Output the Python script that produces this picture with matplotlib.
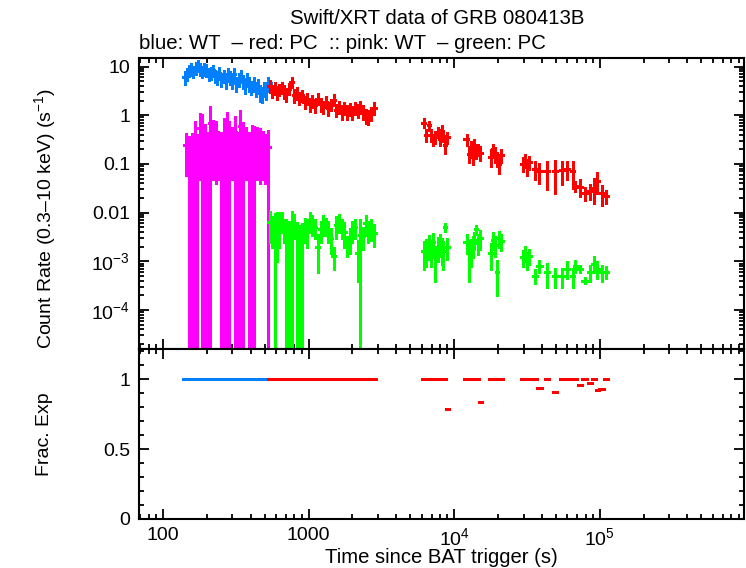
import numpy as np
import matplotlib
matplotlib.use('Agg')
import matplotlib.pyplot as plt
from matplotlib import font_manager
from matplotlib.ticker import FixedLocator, FixedFormatter, LogLocator, MultipleLocator, NullFormatter

# ------------------------------------------------------------
# data (GRB 080413B, Swift/XRT)
# ------------------------------------------------------------
# WT mode, source (blue) and background (pink)
wt_t = [142, 147, 152, 157, 162, 168, 174, 180, 186, 192, 199, 206, 213, 220,
        228, 236, 244, 252, 261, 270, 279, 289, 299, 309, 320, 331, 342, 354,
        366, 379, 392, 405, 419, 434, 449, 464, 480, 497, 514, 530]
wt_rate = [6.0, 7.0, 8.5, 9.0, 8.0, 9.5, 10.5, 9.0, 8.0, 9.0, 8.5, 7.0, 7.5, 8.5,
           6.5, 6.0, 7.5, 5.5, 6.5, 5.0, 7.0, 6.0, 5.0, 7.0, 4.5, 5.5, 6.5, 5.0,
           4.0, 5.5, 4.5, 3.8, 4.5, 3.5, 4.0, 3.0, 2.8, 3.5, 3.2, 4.5]
wt_err = [1.6, 1.8, 2.0, 2.2, 2.0, 2.3, 2.5, 2.2, 2.0, 2.2, 2.1, 1.8, 1.9, 2.0,
          1.7, 1.6, 1.9, 1.5, 1.7, 1.4, 1.8, 1.6, 1.4, 1.8, 1.3, 1.5, 1.7, 1.4,
          1.2, 1.5, 1.3, 1.1, 1.3, 1.0, 1.2, 1.0, 0.9, 1.0, 1.0, 1.3]
wt_frac = [1.0] * 40

wt_bg_t = [145, 152, 158, 165, 172, 179, 186, 194, 202, 211, 220, 230, 240, 251,
           262, 274, 286, 299, 312, 326, 341, 356, 372, 389, 406, 424, 443, 463,
           484, 506, 525]
wt_bg_rate = [0.24, 0.17, 0.20, 0.36, 0.19, 0.55, 0.50, 0.30, 0.20, 0.70, 0.40,
              0.38, 0.25, 0.20, 0.40, 0.55, 0.36, 0.30, 0.45, 0.20, 0.60, 0.35,
              0.30, 0.22, 0.30, 0.28, 0.30, 0.28, 0.25, 0.22, 0.22]
wt_bg_err = [0.18, 0.19, 0.21, 0.37, 0.20, 0.50, 0.52, 0.32, 0.23, 0.75, 0.35,
             0.34, 0.20, 0.23, 0.42, 0.56, 0.37, 0.25, 0.45, 0.23, 0.65, 0.35,
             0.25, 0.22, 0.30, 0.29, 0.25, 0.24, 0.20, 0.18, 0.25]

# PC mode, source (red) and background (green)
pc_t = [545, 565, 585, 605, 630, 655, 680, 705, 735, 765, 795, 830, 865, 900,
        940, 980, 1020, 1065, 1110, 1160, 1210, 1260, 1315, 1370, 1430, 1490,
        1555, 1620, 1690, 1760, 1835, 1915, 2000, 2085, 2175, 2270, 2370, 2470,
        2580, 2700, 2820,
        6200, 6450, 6700, 6950, 7200, 7450, 7700, 7950, 8200, 8450, 8700, 8950,
        12200, 12600, 13000, 13400, 13800, 14200, 14600, 15000,
        18000, 18600, 19200, 19800, 20400, 21000,
        29800, 30800, 31800, 32800,
        36000, 38500, 43300, 49200, 55000, 59900, 65800, 68000, 73400, 78800,
        86000, 91700, 96100, 103200, 110000]
pc_rate = [4.0, 3.2, 3.6, 3.0, 3.4, 3.8, 3.1, 2.7, 3.5, 4.8, 2.6, 2.9, 2.3, 2.6,
           1.9, 2.2, 1.7, 2.0, 1.6, 2.2, 1.7, 1.5, 1.9, 1.4, 1.7, 2.1,
           1.3, 1.5, 1.2, 1.4, 1.2, 1.35, 1.15, 1.4, 1.25, 1.5, 1.2, 1.0,
           0.95, 1.1, 1.4,
           0.70, 0.40, 0.62, 0.40, 0.32, 0.36, 0.45, 0.33, 0.50, 0.38, 0.24, 0.35,
           0.32, 0.16, 0.22, 0.14, 0.25, 0.18, 0.20, 0.17,
           0.14, 0.20, 0.16, 0.13, 0.10, 0.15,
           0.10, 0.12, 0.09, 0.11,
           0.08, 0.07, 0.07, 0.07, 0.075, 0.08, 0.07, 0.035, 0.034, 0.025,
           0.028, 0.032, 0.045, 0.025, 0.022]
pc_err = [1.0, 0.8, 0.9, 0.8, 0.8, 0.9, 0.8, 0.7, 0.8, 1.0, 0.7, 0.7, 0.6, 0.6,
          0.5, 0.5, 0.45, 0.5, 0.45, 0.5, 0.45, 0.4, 0.45, 0.4, 0.4, 0.5,
          0.35, 0.4, 0.35, 0.35, 0.35, 0.35, 0.3, 0.35, 0.35, 0.4, 0.35, 0.3,
          0.3, 0.3, 0.35,
          0.13, 0.10, 0.12, 0.10, 0.08, 0.09, 0.10, 0.08, 0.11, 0.09, 0.07, 0.08,
          0.08, 0.05, 0.06, 0.04, 0.06, 0.05, 0.05, 0.05,
          0.05, 0.05, 0.05, 0.04, 0.035, 0.04,
          0.03, 0.035, 0.03, 0.03,
          0.03, 0.03, 0.04, 0.045, 0.037, 0.03, 0.038, 0.007, 0.012, 0.007,
          0.009, 0.016, 0.02, 0.011, 0.006]
pc_frac = ([1.0] * 41
           + [1.0] * 11 + [0.79]
           + [1.0] * 7 + [0.835]
           + [1.0] * 6
           + [1.0] * 4
           + [1.0, 0.935, 1.0, 0.91, 1.0, 1.0, 1.0, 1.0, 0.96, 1.0, 0.97, 1.0,
              0.92, 0.93, 1.0])

pc_bg_rate = [0.0065, 0.005, 0.0045, 0.0055, 0.006, 0.007, 0.0045, 0.0035, 0.003,
              0.005, 0.006, 0.003, 0.0025, 0.0027, 0.005, 0.0045, 0.007, 0.006,
              0.005, 0.002, 0.0045, 0.006, 0.0055, 0.0045, 0.003, 0.0013, 0.0055,
              0.0065, 0.005, 0.004, 0.0022, 0.003, 0.0045, 0.005, 0.0015, 0.0035,
              0.0033, 0.006, 0.0045, 0.005, 0.0038,
              0.0016, 0.0018, 0.0022, 0.0017, 0.0025, 0.0012, 0.0020, 0.0024,
              0.0019, 0.0016, 0.0050, 0.0020,
              0.0025, 0.0015, 0.0018, 0.0022, 0.0028, 0.0045, 0.0024, 0.0030,
              0.0015, 0.0028, 0.0022, 0.0006, 0.0030, 0.0026,
              0.0012, 0.0015, 0.0011, 0.0013,
              0.0005, 0.0008, 0.0006, 0.0005, 0.0005, 0.0007, 0.0005, 0.0008,
              0.0007, 0.0004, 0.0006, 0.0009, 0.0007, 0.0006, 0.0006]
pc_bg_err = [0.004, 0.003, 0.0048, 0.0045, 0.004, 0.003, 0.002, 0.0037, 0.0033,
             0.0052, 0.003, 0.0032, 0.0028, 0.003, 0.0025, 0.0025, 0.003, 0.0025,
             0.002, 0.0014, 0.002, 0.0025, 0.002, 0.002, 0.0015, 0.0006, 0.0025,
             0.0025, 0.002, 0.002, 0.0009, 0.0015, 0.002, 0.002, 0.0011, 0.0037,
             0.0015, 0.0025, 0.002, 0.0022, 0.0017,
             0.0009, 0.0010, 0.0011, 0.0009, 0.0011, 0.0008, 0.0010, 0.0011,
             0.0010, 0.0009, 0.0008, 0.0009,
             0.0010, 0.0011, 0.0010, 0.0010, 0.0010, 0.0008, 0.0010, 0.0012,
             0.0008, 0.0010, 0.0009, 0.0004, 0.0010, 0.0009,
             0.0004, 0.0005, 0.0004, 0.0004,
             0.00015, 0.0002, 0.0003, 0.0002, 0.0002, 0.00025, 0.0002, 0.0002,
             0.0001, 0.00005, 0.0002, 0.0003, 0.00025, 0.0002, 0.00015]

col_wt = '#0080ff'
col_pc = '#ff0000'
col_wt_bg = '#ff00ff'
col_pc_bg = '#00ff00'

names = {f.name for f in font_manager.fontManager.ttflist}
family = 'Liberation Sans Narrow' if 'Liberation Sans Narrow' in names else 'Liberation Sans'
plt.rcParams['font.family'] = [family, 'DejaVu Sans']
plt.rcParams['mathtext.fontset'] = 'custom'
plt.rcParams['mathtext.rm'] = family
plt.rcParams['mathtext.default'] = 'regular'


def bin_xerr(t, maxfrac=0.035):
    # bins meet halfway (in log) between close neighbours, else +-maxfrac
    t = np.asarray(t, float)
    mids = np.sqrt(t[:-1] * t[1:])
    close = (t[1:] / t[:-1]) < 1 + 2 * maxfrac
    hi = np.r_[np.where(close, mids, t[:-1] * (1 + maxfrac)), t[-1] * (1 + maxfrac)]
    lo = np.r_[t[0] * (1 - maxfrac), np.where(close, mids, t[1:] * (1 - maxfrac))]
    return np.vstack([t - lo, hi - t])


def bars(ax, t, y, yerr, color, lw):
    eb = ax.errorbar(t, y, xerr=bin_xerr(t), yerr=yerr, fmt='none',
                     ecolor=color, elinewidth=lw, capsize=0)
    for lc in eb.lines[2]:
        lc.set_capstyle('projecting')
        lc.set_antialiased(False)
    return eb


def style(ax):
    for s in ax.spines.values():
        s.set_linewidth(1.5)
    ax.tick_params(which='both', direction='in', top=True, right=True,
                   width=1.3, labelsize=14, pad=6)
    ax.tick_params(which='major', length=7)
    ax.tick_params(which='minor', length=3.5)


fig = plt.figure(figsize=(7.46, 5.68), dpi=100)
ax1 = fig.add_axes([0.1857, 0.3856, 0.8116, 0.5118])
ax2 = fig.add_axes([0.1857, 0.0863, 0.8116, 0.2993], sharex=ax1)

bars(ax1, wt_t, wt_rate, wt_err, col_wt, 2.0)
bars(ax1, pc_t, pc_rate, pc_err, col_pc, 2.0)
bars(ax1, wt_bg_t, wt_bg_rate, wt_bg_err, col_wt_bg, 2.0)
bars(ax1, pc_t, pc_bg_rate, pc_bg_err, col_pc_bg, 2.0)

ax1.set_xscale('log')
ax1.set_yscale('log')
ax1.set_xlim(68, 9.8e5)
ax1.set_ylim(1.58e-5, 14.8)
ax1.yaxis.set_major_locator(FixedLocator([10, 1, 0.1, 0.01, 1e-3, 1e-4]))
ax1.yaxis.set_major_formatter(FixedFormatter(['10', '1', '0.1', '0.01',
                                              '10$^{-3}$', '10$^{-4}$']))
ax1.yaxis.set_minor_locator(LogLocator(base=10, subs=np.arange(2, 10), numticks=20))
ax1.yaxis.set_minor_formatter(NullFormatter())
style(ax1)
ax1.tick_params(labelbottom=False)

bars(ax2, wt_t, wt_frac, None, col_wt, 2.0)
bars(ax2, pc_t, pc_frac, None, col_pc, 2.0)
ax2.set_ylim(0, 1.216)
ax2.yaxis.set_major_locator(FixedLocator([0, 0.5, 1]))
ax2.yaxis.set_major_formatter(FixedFormatter(['0', '0.5', '1']))
ax2.yaxis.set_minor_locator(MultipleLocator(0.1))
ax2.xaxis.set_major_locator(FixedLocator([100, 1000, 1e4, 1e5]))
ax2.xaxis.set_major_formatter(FixedFormatter(['100', '1000', '10$^4$', '10$^5$']))
ax2.xaxis.set_minor_locator(LogLocator(base=10, subs=np.arange(2, 10), numticks=20))
ax2.xaxis.set_minor_formatter(NullFormatter())
style(ax2)
ax2.set_xlabel('Time since BAT trigger (s)', fontsize=14.6, labelpad=-1)

fig.text(0.586, 0.968, 'Swift/XRT data of GRB 080413B', ha='center', va='center',
         fontsize=14.7)
fig.text(0.1857, 0.923, 'blue: WT  \u2013 red: PC  :: pink: WT  \u2013 green: PC',
         ha='left', va='center', fontsize=14.7)
fig.text(0.06, 0.615, 'Count Rate (0.3\u201310 keV) (s$^{-1}$)', rotation=90,
         ha='center', va='center', fontsize=14)
fig.text(0.06, 0.236, 'Frac. Exp', rotation=90, ha='center', va='center',
         fontsize=14)

fig.savefig('out.png', dpi=100)
